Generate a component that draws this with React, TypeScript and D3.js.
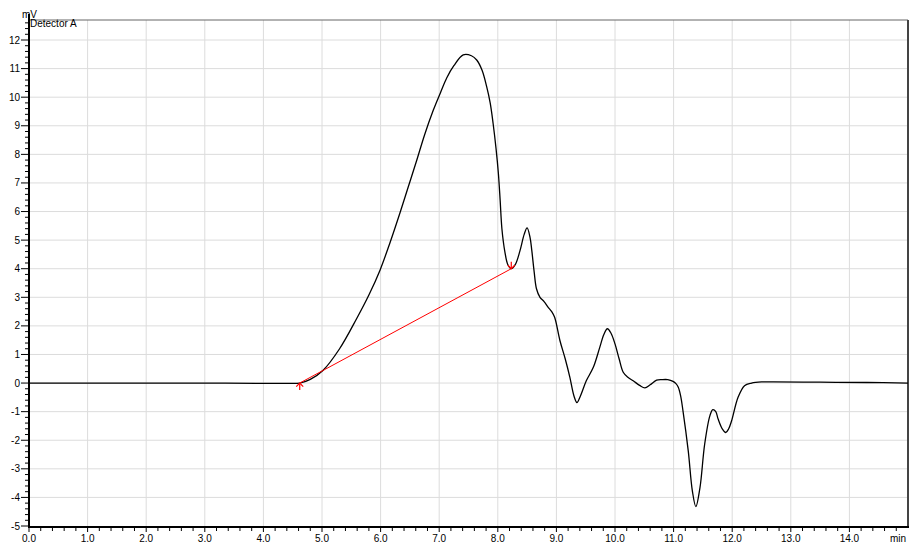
import React from "react";
import * as d3 from "d3";

const timeMin = [0, 1, 2, 3, 4, 4.4, 4.62, 4.8, 5.02, 5.3, 5.59, 5.8, 5.99, 6.15, 6.33, 6.47, 6.61, 6.75, 6.9, 7.02, 7.13, 7.25, 7.41, 7.55, 7.64, 7.73, 7.81, 7.87, 7.92, 7.97, 8.01, 8.04, 8.07, 8.12, 8.17, 8.23, 8.3, 8.38, 8.45, 8.5, 8.55, 8.58, 8.62, 8.66, 8.72, 8.79, 8.86, 8.92, 8.97, 9.06, 9.15, 9.23, 9.3, 9.35, 9.41, 9.51, 9.63, 9.74, 9.81, 9.87, 9.93, 10.0, 10.07, 10.14, 10.22, 10.31, 10.42, 10.51, 10.6, 10.71, 10.8, 10.9, 10.99, 11.04, 11.08, 11.12, 11.16, 11.25, 11.32, 11.38, 11.45, 11.53, 11.62, 11.67, 11.72, 11.76, 11.83, 11.89, 11.94, 11.99, 12.1, 12.21, 12.33, 12.5, 12.7, 13.5, 14.3, 15];
const signalMV = [0, 0, 0, 0, -0.01, -0.01, 0, 0.13, 0.45, 1.2, 2.25, 3.08, 3.95, 4.85, 5.95, 6.85, 7.75, 8.68, 9.55, 10.15, 10.68, 11.1, 11.48, 11.45, 11.3, 10.95, 10.37, 9.8, 9.08, 8.2, 7.33, 6.4, 5.4, 4.6, 4.15, 4.0, 4.15, 4.64, 5.2, 5.43, 5.1, 4.64, 3.9, 3.3, 3.0, 2.85, 2.65, 2.5, 2.3, 1.49, 0.85, 0.2, -0.45, -0.68, -0.45, 0.08, 0.55, 1.25, 1.7, 1.9, 1.75, 1.37, 0.85, 0.38, 0.2, 0.08, -0.08, -0.17, -0.06, 0.1, 0.12, 0.12, 0.06, -0.02, -0.15, -0.45, -0.97, -2.37, -3.77, -4.32, -3.66, -2.14, -1.14, -0.93, -1.0, -1.26, -1.6, -1.73, -1.6, -1.32, -0.5, -0.09, 0.0, 0.04, 0.04, 0.03, 0.02, 0.0];

const baselineT = [4.62, 8.23];
const baselineV = [0, 4.0];

const xTickLabels = ["0.0", "1.0", "2.0", "3.0", "4.0", "5.0", "6.0", "7.0", "8.0", "9.0", "10.0", "11.0", "12.0", "13.0", "14.0"];
const yTickValues = [-5, -4, -3, -2, -1, 0, 1, 2, 3, 4, 5, 6, 7, 8, 9, 10, 11, 12];

const W = 910;
const H = 543;
const FONT = "'Liberation Sans', Arial, sans-serif";

export default function App() {
  const x = d3.scaleLinear().domain([0, 15]).range([29, 908]);
  const y = d3.scaleLinear().domain([-5, 12.7]).range([526, 20]);
  const left = 29;
  const bottom = 527;

  const pts: [number, number][] = timeMin.map((t, i) => [t, signalMV[i]]);
  const line = d3
    .line<[number, number]>()
    .x((d) => x(d[0]))
    .y((d) => y(d[1]))
    .curve(d3.curveCatmullRom.alpha(0.5));

  const majorX = d3.range(0, 15);
  const minorX = d3.range(0, 75).map((i) => i * 0.2).filter((v) => Math.abs(v - Math.round(v)) > 1e-6);
  const minorY = d3.range(-25, 64).map((i) => i * 0.2).filter((v) => Math.abs(v - Math.round(v)) > 1e-6 && v <= 12.7);

  const bx0 = x(baselineT[0]);
  const by0 = y(baselineV[0]);
  const bx1 = x(baselineT[1]);
  const by1 = y(baselineV[1]);

  return (
    <svg width={W} height={H} style={{ position: "absolute", left: 0, top: 0, background: "#fff" }}>
      {majorX.slice(1).map((v) => (
        <line key={"gx" + v} x1={x(v)} x2={x(v)} y1={20} y2={bottom} stroke="#dcdcdc" strokeWidth={1} />
      ))}
      {yTickValues.slice(1).map((v) => (
        <line key={"gy" + v} x1={left} x2={908} y1={y(v)} y2={y(v)} stroke="#dcdcdc" strokeWidth={1} />
      ))}
      <line x1={left} x2={908} y1={20} y2={20} stroke="#666" strokeWidth={1} />
      <line x1={908} x2={908} y1={20} y2={bottom} stroke="#444" strokeWidth={2} />
      <path d={line(pts) || ""} fill="none" stroke="#000" strokeWidth={1.3} />
      <line x1={bx0} y1={by0} x2={bx1} y2={by1} stroke="#ff0000" strokeWidth={1} />
      <g stroke="#ff0000" strokeWidth={1.2} fill="none">
        <line x1={bx0} y1={by0} x2={bx0} y2={by0 + 7} />
        <polyline points={`${bx0 - 3.5},${by0 + 3.5} ${bx0},${by0} ${bx0 + 3.5},${by0 + 3.5}`} />
        <line x1={bx1} y1={by1} x2={bx1} y2={by1 - 7} />
        <polyline points={`${bx1 - 3.5},${by1 - 3.5} ${bx1},${by1} ${bx1 + 3.5},${by1 - 3.5}`} />
      </g>
      <line x1={left} x2={left} y1={14} y2={bottom + 1} stroke="#000" strokeWidth={2} />
      <line x1={left - 1} x2={909} y1={bottom} y2={bottom} stroke="#000" strokeWidth={2} />
      {yTickValues.map((v) => (
        <g key={"yt" + v}>
          <line x1={left - 8} x2={left} y1={y(v)} y2={y(v)} stroke="#000" strokeWidth={1} />
          <text x={left - 9} y={y(v) + 3.5} textAnchor="end" fontFamily={FONT} fontSize={10} fill="#000">
            {v}
          </text>
        </g>
      ))}
      {minorY.map((v) => (
        <line key={"ym" + v} x1={left - 4} x2={left} y1={y(v)} y2={y(v)} stroke="#000" strokeWidth={1} />
      ))}
      {majorX.map((v, i) => (
        <g key={"xt" + v}>
          <line x1={x(v)} x2={x(v)} y1={bottom} y2={bottom + 5} stroke="#000" strokeWidth={1} />
          <text x={x(v)} y={541.5} textAnchor="middle" fontFamily={FONT} fontSize={10} fill="#000">
            {xTickLabels[i]}
          </text>
        </g>
      ))}
      {minorX.map((v) => (
        <line key={"xm" + v} x1={x(v)} x2={x(v)} y1={bottom} y2={bottom + 4} stroke="#000" strokeWidth={1} />
      ))}
      <text x={906} y={541.5} textAnchor="end" fontFamily={FONT} fontSize={10} fill="#000">min</text>
      <text x={22} y={18} fontFamily={FONT} fontSize={10} fill="#000">mV</text>
      <text x={30} y={27} fontFamily={FONT} fontSize={10} fill="#000">Detector A</text>
    </svg>
  );
}
